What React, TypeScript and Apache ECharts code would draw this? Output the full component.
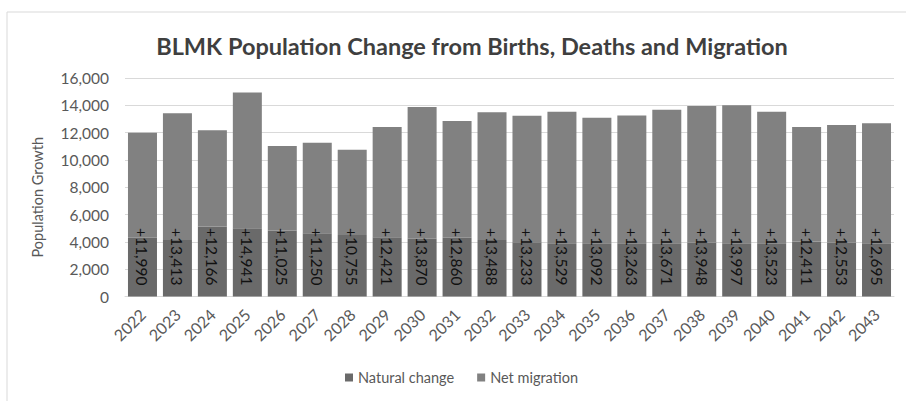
import React, { useEffect, useRef } from "react";
import * as echarts from "echarts";

const years = ["2022","2023","2024","2025","2026","2027","2028","2029","2030","2031","2032","2033","2034","2035","2036","2037","2038","2039","2040","2041","2042","2043"];
const naturalChange = [4310,4140,5120,5000,4830,4630,4510,4340,4220,4310,4140,3970,3900,3900,3900,3900,3950,3900,3900,4020,3950,3900];
const netMigration = [7680,9273,7046,9941,6195,6620,6245,8081,9650,8550,9348,9263,9629,9192,9363,9771,9998,10097,9623,8391,8603,8795];
const totalLabels = ["+11,990","+13,413","+12,166","+14,941","+11,025","+11,250","+10,755","+12,421","+13,870","+12,860","+13,488","+13,233","+13,529","+13,092","+13,263","+13,671","+13,948","+13,997","+13,523","+12,411","+12,553","+12,695"];

const FONT = "Lato, 'Open Sans', sans-serif";

export default function App() {
  const ref = useRef<HTMLDivElement>(null);
  useEffect(() => {
    document.body.style.margin = "0";
    const chart = echarts.init(ref.current!, null, { renderer: "svg" });
    chart.setOption({
      animation: false,
      textStyle: { fontFamily: FONT },
      title: {
        text: "BLMK Population Change from Births, Deaths and Migration",
        left: 467,
        textAlign: "center",
        top: 29,
        textStyle: { fontFamily: FONT, fontSize: 23.5, fontWeight: "bold", color: "#3f3f3f" },
      },
      graphic: [
        {
          type: "rect",
          shape: { x: 7, y: 12, width: 930, height: 430 },
          style: { fill: "none", stroke: "#d9d9d9", lineWidth: 1 },
          silent: true,
          z: -10,
        },
      ],
      legend: {
        left: 340,
        top: 365,
        icon: "rect",
        itemWidth: 8,
        itemHeight: 8,
        itemGap: 23,
        textStyle: { fontFamily: FONT, fontSize: 14.5, color: "#595959" },
        data: ["Natural change", "Net migration"],
      },
      grid: { left: 125, right: 12, top: 78, bottom: 104.5 },
      xAxis: {
        type: "category",
        data: years,
        axisTick: { show: false },
        axisLine: { lineStyle: { color: "#d9d9d9" } },
        axisLabel: { rotate: 45, color: "#595959", fontSize: 16, margin: 15, fontFamily: FONT },
      },
      yAxis: {
        type: "value",
        min: 0,
        max: 16000,
        interval: 2000,
        name: "Population Growth",
        nameLocation: "middle",
        nameRotate: 90,
        nameGap: 80,
        nameTextStyle: { color: "#595959", fontSize: 14.5, fontFamily: FONT, padding: [0, 20, 0, 0] },
        axisLine: { show: false },
        axisTick: { show: false },
        splitLine: { lineStyle: { color: "#d9d9d9" } },
        axisLabel: {
          color: "#595959",
          fontSize: 15.5,
          margin: 16,
          fontFamily: FONT,
          formatter: (v: number) => v.toLocaleString("en-US"),
        },
      },
      series: [
        {
          name: "Natural change",
          type: "bar",
          stack: "total",
          barWidth: 29,
          data: naturalChange,
          itemStyle: { color: "#6a6a6a" },
          label: {
            show: true,
            position: "insideBottom",
            distance: 11,
            rotate: -90,
            align: "right",
            verticalAlign: "middle",
            fontSize: 15.5,
            fontFamily: FONT,
            color: "#111111",
            formatter: (p: any) => totalLabels[p.dataIndex],
          },
        },
        {
          name: "Net migration",
          type: "bar",
          stack: "total",
          barWidth: 29,
          data: netMigration,
          itemStyle: { color: "#818181" },
        },
      ],
    });
    return () => chart.dispose();
  }, []);
  return <div ref={ref} style={{ width: 906, height: 401 }} />;
}
